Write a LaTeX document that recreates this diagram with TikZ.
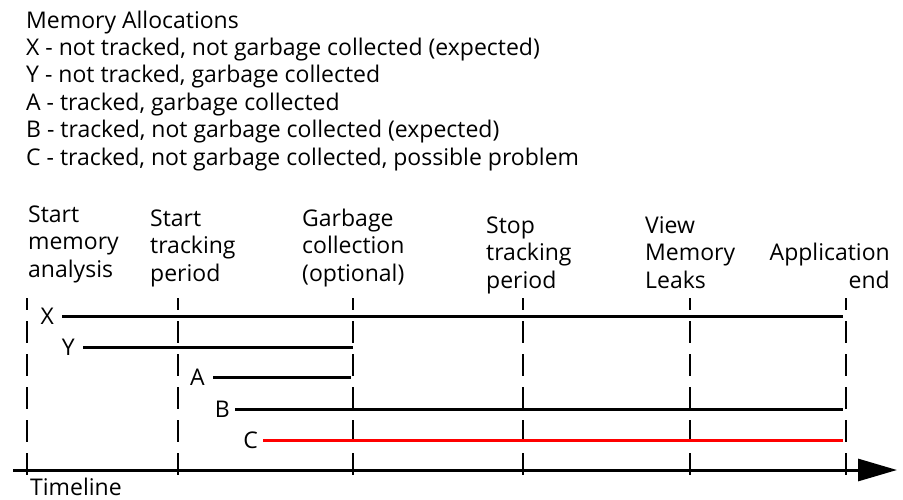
\documentclass[tikz,border=0pt]{standalone}
\usepackage{fontspec}
\setmainfont{Open Sans}
\usepackage{xcolor}
\usepackage{tikz}
\usetikzlibrary{arrows.meta,positioning,calc}
\definecolor{ink}{HTML}{000000}
\definecolor{leakred}{HTML}{FF0000}
\tikzset{
    every picture/.style={line join=round},
    basefont/.style={font=\fontsize{23}{27.4}\selectfont},
    eventlabel/.style={basefont,text=ink,align=left,inner sep=0pt,anchor=base west},
    alloclabel/.style={basefont,text=ink,inner xsep=8pt,inner ysep=0pt,anchor=east},
    eventline/.style={draw=ink,line width=2.6pt,dash pattern=on 22pt off 11pt,dash phase=10pt},
    allocline/.style={draw=ink,line width=3pt,shorten >=3pt},
    timeaxis/.style={draw=ink,line width=3pt,-{Triangle[length=39pt,width=22pt]}}
}
\begin{document}
\begin{tikzpicture}[x=1pt,y=-1pt]
  \useasboundingbox (0,0) rectangle (903,499);
  % legend (base = last line)
  \node[eventlabel] (legend) at (26,165) {Memory Allocations\\
    X - not tracked, not garbage collected (expected)\\
    Y - not tracked, garbage collected\\
    A - tracked, garbage collected\\
    B - tracked, not garbage collected (expected)\\
    C - tracked, not garbage collected, possible problem};
  % events
  \node[eventlabel] (evStart) at (28,277) {Start\\memory\\analysis};
  \node[eventlabel] (evTrack) at (150,281) {Start\\tracking\\period};
  \node[eventlabel] (evGc) at (302,281) {Garbage\\collection\\(optional)};
  \node[eventlabel] (evStop) at (486,288) {Stop\\tracking\\period};
  \node[eventlabel] (evLeaks) at (645,288) {View\\Memory\\Leaks};
  \node[eventlabel,align=right,anchor=base east] (evEnd) at (890,288) {Application\\end};
  \foreach \x/\n in {27/start,178/track,353/gc,523/stop,690/leaks,846/appEnd}{
    \coordinate (\n-top) at (\x,298);
    \coordinate (\n-bot) at (\x,476);
    \draw[eventline] (\n-top) -- (\n-bot);
  }
  % allocations
  \node[alloclabel] (X) at (62,316) {X};
  \node[alloclabel] (Y) at (83,347) {Y};
  \node[alloclabel] (A) at (213,377) {A};
  \node[alloclabel,inner xsep=5pt] (B) at (235,409) {B};
  \node[alloclabel,inner xsep=5pt] (C) at (263,440) {C};
  \draw[allocline] (X.east) -- (X.east -| appEnd-top);
  \draw[allocline,shorten >=0pt] (Y.east) -- (Y.east -| gc-top);
  \draw[allocline,shorten >=2pt] (A.east) -- (A.east -| gc-top);
  \draw[allocline] (B.east) -- (B.east -| appEnd-top);
  \draw[allocline,leakred] (C.east) -- (C.east -| appEnd-top);
  % timeline
  \coordinate (axisL) at (13,470);
  \coordinate (axisR) at (897,470);
  \draw[timeaxis] (axisL) -- (axisR);
  \node[eventlabel] (timeline) at (30,495) {Timeline};
\end{tikzpicture}
\end{document}
